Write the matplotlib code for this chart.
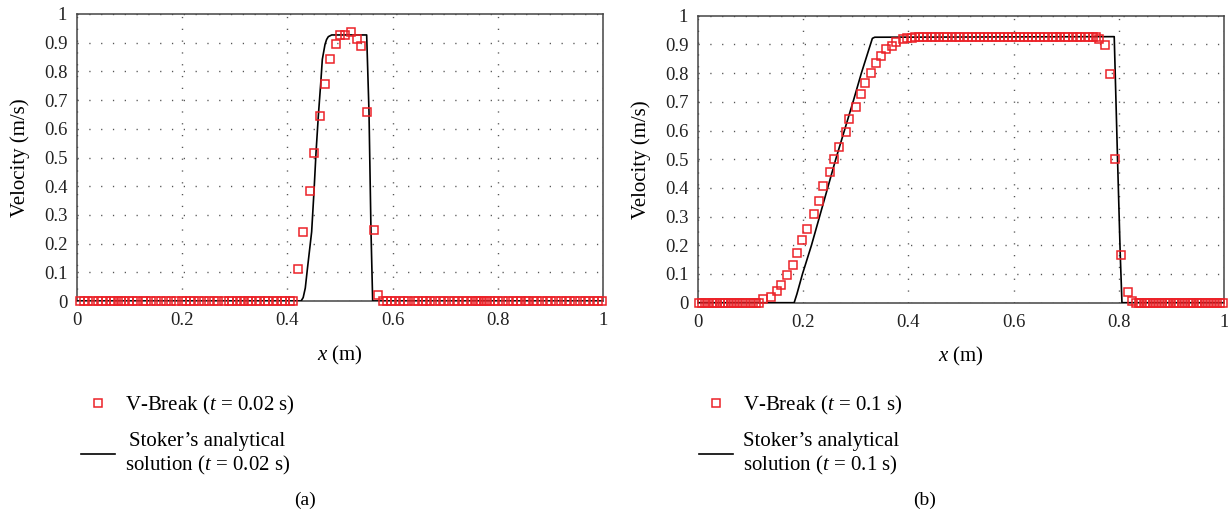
import matplotlib
matplotlib.use("Agg")
import matplotlib.pyplot as plt
from matplotlib.ticker import FixedLocator, FixedFormatter

plt.rcParams["font.family"] = ["Liberation Serif", "DejaVu Serif"]
plt.rcParams["mathtext.fontset"] = "custom"
plt.rcParams["mathtext.rm"] = "Liberation Serif"
plt.rcParams["mathtext.it"] = "Liberation Serif:italic"

# ---- axis ticks -------------------------------------------------------------
x_ticks = [0.0, 0.2, 0.4, 0.6, 0.8, 1.0]
x_tick_labels = ["0", "0.2", "0.4", "0.6", "0.8", "1"]
y_ticks = [0.0, 0.1, 0.2, 0.3, 0.4, 0.5, 0.6, 0.7, 0.8, 0.9, 1.0]
y_tick_labels = ["0", "0.1", "0.2", "0.3", "0.4", "0.5", "0.6", "0.7", "0.8", "0.9", "1"]

# ---- (a) t = 0.02 s -----------------------------------------------------------
vbreak_a_x = [
    0.005, 0.013, 0.021, 0.030, 0.040, 0.047, 0.055, 0.065, 0.071, 0.078,
    0.084, 0.090, 0.098, 0.106, 0.115, 0.125, 0.132, 0.141, 0.151, 0.160,
    0.170, 0.179, 0.189, 0.199, 0.208, 0.215, 0.223, 0.231, 0.241, 0.250,
    0.260, 0.269, 0.279, 0.289, 0.295, 0.305, 0.312, 0.318, 0.325, 0.331,
    0.341, 0.347, 0.357, 0.364, 0.373, 0.380, 0.389, 0.395, 0.405, 0.411,
    0.4195, 0.4297, 0.4423, 0.4512, 0.4614, 0.4715, 0.4816, 0.4918, 0.5006, 0.5095,
    0.5203, 0.5323, 0.5399, 0.5513, 0.5646, 0.5716,
    0.581, 0.589, 0.597, 0.605, 0.614, 0.622, 0.630, 0.640, 0.648, 0.657,
    0.663, 0.672, 0.681, 0.690, 0.698, 0.707, 0.716, 0.725, 0.733, 0.742,
    0.751, 0.758, 0.763, 0.768, 0.773, 0.779, 0.786, 0.793, 0.801, 0.810,
    0.819, 0.828, 0.836, 0.845, 0.853, 0.858, 0.866, 0.875, 0.884, 0.893,
    0.902, 0.911, 0.920, 0.929, 0.938, 0.947, 0.956, 0.965, 0.974, 0.983,
    0.991, 0.999,
]
vbreak_a_u = [
    0, 0, 0, 0, 0, 0, 0, 0, 0, 0,
    0, 0, 0, 0, 0, 0, 0, 0, 0, 0,
    0, 0, 0, 0, 0, 0, 0, 0, 0, 0,
    0, 0, 0, 0, 0, 0, 0, 0, 0, 0,
    0, 0, 0, 0, 0, 0, 0, 0, 0, 0,
    0.110, 0.241, 0.383, 0.517, 0.645, 0.757, 0.842, 0.894, 0.926, 0.926,
    0.936, 0.913, 0.890, 0.660, 0.246, 0.022,
    0, 0, 0, 0, 0, 0, 0, 0, 0, 0,
    0, 0, 0, 0, 0, 0, 0, 0, 0, 0,
    0, 0, 0, 0, 0, 0, 0, 0, 0, 0,
    0, 0, 0, 0, 0, 0, 0, 0, 0, 0,
    0, 0, 0, 0, 0, 0, 0, 0, 0, 0,
    0, 0,
]
stoker_a_x = [0.0, 0.426, 0.430, 0.434, 0.4379, 0.4461, 0.4506, 0.4544, 0.4588, 0.4633,
              0.4664, 0.4715, 0.4745, 0.4778, 0.4842, 0.5507, 0.5551, 0.5589, 0.5621, 1.0]
stoker_a_u = [0.0, 0.0, 0.012, 0.045, 0.110, 0.241, 0.383, 0.517, 0.645, 0.757,
              0.842, 0.894, 0.911, 0.921, 0.927, 0.927, 0.660, 0.245, 0.0, 0.0]

# ---- (b) t = 0.1 s -------------------------------------------------------------
vbreak_b_x = [
    0.002, 0.008, 0.013, 0.019, 0.026, 0.031, 0.036, 0.041, 0.047, 0.052,
    0.057, 0.062, 0.068, 0.074, 0.080, 0.086, 0.092, 0.098, 0.104, 0.110,
    0.116,
    0.124, 0.138, 0.1505, 0.157, 0.1695, 0.1797, 0.1885, 0.1986, 0.208, 0.220,
    0.230, 0.237, 0.250, 0.259, 0.269, 0.2815, 0.288, 0.301, 0.310, 0.3175,
    0.329, 0.339, 0.3486, 0.358, 0.3695, 0.377, 0.3896,
    0.398, 0.406, 0.413, 0.421, 0.428, 0.436, 0.444, 0.451, 0.459, 0.467,
    0.474, 0.482, 0.490, 0.497, 0.505, 0.513, 0.520, 0.528, 0.536, 0.543,
    0.551, 0.559, 0.566, 0.574, 0.582, 0.589, 0.597, 0.605, 0.612, 0.620,
    0.628, 0.635, 0.643, 0.651, 0.658, 0.666, 0.674, 0.681, 0.689, 0.697,
    0.704, 0.712, 0.720, 0.727, 0.735, 0.743, 0.750, 0.757, 0.763,
    0.773, 0.783, 0.793, 0.805, 0.8166, 0.8245,
    0.832, 0.838, 0.843, 0.849, 0.854, 0.860, 0.865, 0.871, 0.876, 0.882,
    0.887, 0.893, 0.898, 0.904, 0.909, 0.915, 0.920, 0.926, 0.931, 0.937,
    0.942, 0.948, 0.953, 0.959, 0.964, 0.970, 0.975, 0.981, 0.986, 0.992,
    0.998,
]
vbreak_b_u = [
    0, 0, 0, 0, 0, 0, 0, 0, 0, 0,
    0, 0, 0, 0, 0, 0, 0, 0, 0, 0,
    0,
    0.012, 0.021, 0.041, 0.062, 0.098, 0.132, 0.173, 0.218, 0.258, 0.310,
    0.355, 0.405, 0.456, 0.502, 0.542, 0.595, 0.640, 0.681, 0.726, 0.767,
    0.801, 0.834, 0.860, 0.884, 0.895, 0.909, 0.919,
    0.922, 0.924, 0.925, 0.925, 0.925, 0.925, 0.925, 0.925, 0.925, 0.925,
    0.925, 0.925, 0.925, 0.925, 0.925, 0.925, 0.925, 0.925, 0.925, 0.925,
    0.925, 0.925, 0.925, 0.925, 0.925, 0.925, 0.925, 0.925, 0.925, 0.925,
    0.925, 0.925, 0.925, 0.925, 0.925, 0.925, 0.925, 0.925, 0.925, 0.925,
    0.925, 0.925, 0.925, 0.925, 0.925, 0.925, 0.925, 0.925, 0.918,
    0.898, 0.798, 0.502, 0.167, 0.036, 0.005,
    0, 0, 0, 0, 0, 0, 0, 0, 0, 0,
    0, 0, 0, 0, 0, 0, 0, 0, 0, 0,
    0, 0, 0, 0, 0, 0, 0, 0, 0, 0,
    0,
]
stoker_b_x = [0.0, 0.1828, 0.188, 0.1986, 0.2157, 0.2619, 0.2948, 0.3106, 0.3315,
              0.336, 0.7913, 0.7976, 0.8027, 0.806, 1.0]
stoker_b_u = [0.0, 0.0, 0.030, 0.100, 0.200, 0.500, 0.700, 0.800, 0.921,
              0.925, 0.927, 0.500, 0.170, 0.0, 0.0]

panels = [
    dict(vx=vbreak_a_x, vu=vbreak_a_u, sx=stoker_a_x, su=stoker_a_u,
         t="0.02", tag="(a)", rect=[77 / 1228, 1 - 301 / 513, 526 / 1228, 287 / 513],
         tag_x=305 / 1228, legend_x=81 / 1228),
    dict(vx=vbreak_b_x, vu=vbreak_b_u, sx=stoker_b_x, su=stoker_b_u,
         t="0.1", tag="(b)", rect=[698 / 1228, 1 - 302.7 / 513, 526 / 1228, 287 / 513],
         tag_x=925 / 1228, legend_x=699 / 1228),
]

red = "#ec2228"
fig = plt.figure(figsize=(12.28, 5.13), dpi=100)

for p in panels:
    ax = fig.add_axes(p["rect"])
    ax.set_xlim(0, 1)
    ax.set_ylim(0, 1)

    ax.xaxis.set_major_locator(FixedLocator(x_ticks))
    ax.xaxis.set_major_formatter(FixedFormatter(x_tick_labels))
    ax.yaxis.set_major_locator(FixedLocator(y_ticks))
    ax.yaxis.set_major_formatter(FixedFormatter(y_tick_labels))
    ax.tick_params(axis="both", length=0, labelsize=13.5, colors="#222222")
    ax.tick_params(axis="x", pad=8)
    ax.tick_params(axis="y", pad=7)

    ax.grid(True, color="#555555", linewidth=1.0, linestyle=(0, (0.9, 7.6)))
    ax.set_axisbelow(True)
    for s in ax.spines.values():
        s.set_color("#444444")
        s.set_linewidth(1.1)

    line, = ax.plot(p["sx"], p["su"], color="black", linewidth=1.2, zorder=3,
                    label="Stoker\u2019s analytical\nsolution ($t$ = %s s)" % p["t"])
    pts, = ax.plot(p["vx"], p["vu"], linestyle="none", marker="s", markersize=5.4,
                   markerfacecolor="none", markeredgecolor=red, markeredgewidth=1.1,
                   clip_on=False, zorder=4, label="V-Break ($t$ = %s s)" % p["t"])

    ax.set_xlabel("$x$ (m)", fontsize=15)
    ax.xaxis.set_label_coords(0.5, -54 / 287)
    ax.xaxis.label.set_va("center")
    ax.set_ylabel("Velocity (m/s)", fontsize=15)
    ax.yaxis.set_label_coords(-57 / 526, 0.5)
    ax.yaxis.label.set_va("center")

    leg = fig.legend(handles=[pts, line], loc="upper left",
                     bbox_to_anchor=(p["legend_x"], 1 - 394 / 513),
                     frameon=False, fontsize=15, handlelength=1.65,
                     handletextpad=0.45, labelspacing=0.7, borderpad=0,
                     borderaxespad=0)
    for txt in leg.get_texts():
        txt.set_multialignment("center")

    fig.text(p["tag_x"], 1 - 500 / 513, p["tag"], ha="center", va="center",
             fontsize=14)

fig.savefig("out.png", dpi=100)
